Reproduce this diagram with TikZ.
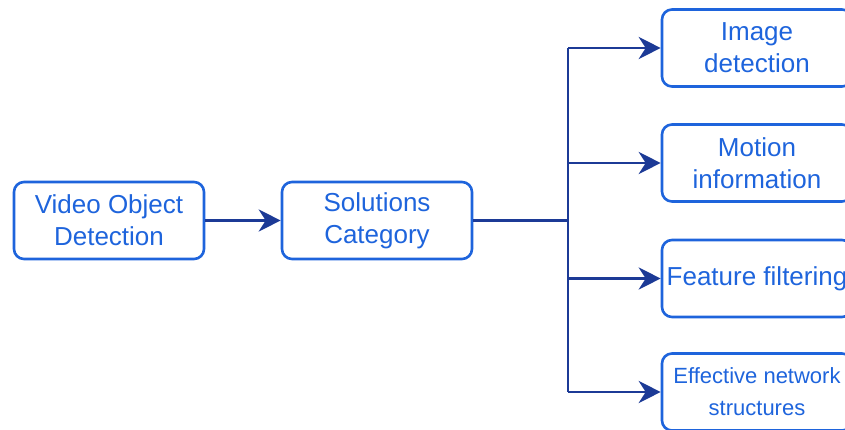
\documentclass[tikz,border=0pt]{standalone}
\usepackage{fontspec}
\setmainfont{Liberation Sans}
\usetikzlibrary{arrows.meta}
\definecolor{boxblue}{RGB}{30,100,220}
\definecolor{linkblue}{RGB}{28,58,150}
\begin{document}
\begin{tikzpicture}[x=1pt,y=-1pt,
  box/.style={draw=boxblue, text=boxblue, line width=2.6pt, rounded corners=10pt,
    minimum width=190pt, minimum height=77pt, align=center, inner sep=0pt,
    font=\fontsize{26}{32}\selectfont},
  smallbox/.style={box, font=\fontsize{22}{32}\selectfont},
  link/.style={draw=linkblue, line width=2.9pt,
    -{Stealth[length=22pt,width=22pt,inset=7pt]}},
  bus/.style={draw=linkblue, line width=2.9pt},
  trunk/.style={draw=linkblue, line width=3.6pt},
]
\useasboundingbox (0,0) rectangle (845,430);
\clip (0,0) rectangle (845,430);

% main chain
\node[box] (vod) at (109,220.5) {Video Object\\Detection};
\node[box] (sol) at (377,220.5) {Solutions\\Category};

% solution categories
\node[box] (img) at (757,48) {Image\\detection};
\node[box] (mot) at (757,163) {Motion\\information};
\node[box] (fea) at (757,278.5) {Feature filtering};
\node[smallbox] (eff) at (757,392) {Effective network\\structures};

% branch points on the vertical bus
\coordinate (j0) at (568,220.5);
\coordinate (j1) at (568,48);
\coordinate (j2) at (568,163);
\coordinate (j3) at (568,278.5);
\coordinate (j4) at (568,392);

\draw[link] (vod) -- (sol);
\draw[trunk] (sol.east) -- (j0);
\draw[bus] (j1) -- (j4);
\draw[link] (j1) -- (img.west);
\draw[link] (j2) -- (mot.west);
\draw[link] (j3) -- (fea.west);
\draw[link] (j4) -- (eff.west);
\end{tikzpicture}
\end{document}
